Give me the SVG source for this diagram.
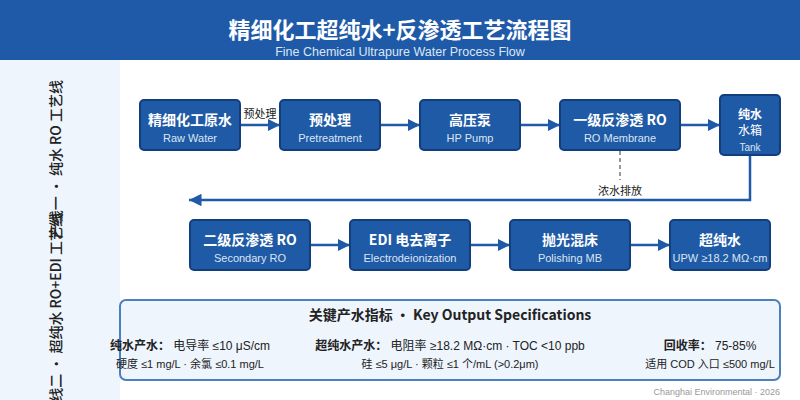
<svg xmlns="http://www.w3.org/2000/svg" width="800" height="400" viewBox="0 0 800 400">
<defs>
<style>
.node rect{fill:#1f5aa6;stroke:#123f7c;stroke-width:2}
.t{font-family:"Noto Sans CJK SC","Noto Sans",sans-serif;font-weight:700;fill:#fff;text-anchor:middle}
.s{font-family:"Liberation Sans","Noto Sans CJK SC",sans-serif;fill:#dbe6f5;text-anchor:middle}
.lbl{font-family:"Noto Sans CJK SC",sans-serif;font-size:11px;fill:#222}
.con{stroke:#1f5aa6;stroke-width:2.5;fill:none}
.sp{font-family:"Liberation Sans","Noto Sans CJK SC",sans-serif;fill:#222;text-anchor:middle}
.b{font-family:"Noto Sans CJK SC",sans-serif;font-weight:700}
</style>
<marker id="ah" viewBox="0 0 10 10" refX="10" refY="5" markerWidth="5" markerHeight="5" orient="auto" markerUnits="strokeWidth">
<path d="M0,0 L10,5 L0,10 z" fill="#1f5aa6"/>
</marker>
</defs>
<rect width="800" height="400" fill="#fff"/>
<rect width="800" height="60" fill="#1f5aa8"/>
<text x="400" y="38" text-anchor="middle" font-family="Noto Sans CJK SC, sans-serif" font-weight="700" font-size="22" fill="#fff">精细化工超纯水+反渗透工艺流程图</text>
<text x="400" y="56" text-anchor="middle" font-family="Liberation Sans, sans-serif" font-size="12.5" fill="#dbe6f5">Fine Chemical Ultrapure Water Process Flow</text>
<rect x="0" y="60" width="120" height="340" fill="#eef5fd"/>
<g font-family="Noto Sans CJK SC, sans-serif" font-size="14" font-weight="500" fill="#222" text-anchor="end">
<text transform="translate(61,80) rotate(-90)">产线一 · 纯水 RO 工艺线</text>
<text transform="translate(61,213) rotate(-90)">产线二 · 超纯水 RO+EDI 工艺线</text>
</g>
<g id="connectors">
<line class="con" x1="240" y1="125" x2="280" y2="125" marker-end="url(#ah)"/>
<text class="lbl" x="260" y="118" text-anchor="middle">预处理</text>
<line class="con" x1="380" y1="125" x2="420" y2="125" marker-end="url(#ah)"/>
<line class="con" x1="520" y1="125" x2="560" y2="125" marker-end="url(#ah)"/>
<line class="con" x1="680" y1="125" x2="720" y2="125" marker-end="url(#ah)"/>
<polyline class="con" points="750,155 750,200 189,200" marker-end="url(#ah)"/>
<line x1="620" y1="151" x2="620" y2="180" stroke="#999" stroke-width="2" stroke-dasharray="4,3"/>
<text class="lbl" x="620" y="195" text-anchor="middle">浓水排放</text>
<line class="con" x1="310" y1="245" x2="350" y2="245" marker-end="url(#ah)"/>
<line class="con" x1="470" y1="245" x2="510" y2="245" marker-end="url(#ah)"/>
<line class="con" x1="630" y1="245" x2="670" y2="245" marker-end="url(#ah)"/>
</g>
<g id="raw" class="node"><rect x="140" y="100" width="100" height="50" rx="4"/><text class="t" x="190" y="125" font-size="14">精细化工原水</text><text class="s" x="190" y="142" font-size="11">Raw Water</text></g>
<g id="pre" class="node"><rect x="280" y="100" width="100" height="50" rx="4"/><text class="t" x="330" y="125" font-size="14">预处理</text><text class="s" x="330" y="142" font-size="11">Pretreatment</text></g>
<g id="pump" class="node"><rect x="420" y="100" width="100" height="50" rx="4"/><text class="t" x="470" y="125" font-size="14">高压泵</text><text class="s" x="470" y="142" font-size="11">HP Pump</text></g>
<g id="ro1" class="node"><rect x="560" y="100" width="120" height="50" rx="4"/><text class="t" x="620" y="125" font-size="14">一级反渗透 RO</text><text class="s" x="620" y="142" font-size="11">RO Membrane</text></g>
<g id="tank" class="node"><rect x="720" y="95" width="60" height="60" rx="4"/><text class="t" x="750" y="119" font-size="12">纯水</text><text x="750" y="135" font-family="Noto Sans CJK SC, sans-serif" font-size="12" fill="#fff" text-anchor="middle">水箱</text><text class="s" x="750" y="151" font-size="10">Tank</text></g>
<g id="ro2" class="node"><rect x="190" y="220" width="120" height="50" rx="4"/><text class="t" x="250" y="245" font-size="14">二级反渗透 RO</text><text class="s" x="250" y="262" font-size="11">Secondary RO</text></g>
<g id="edi" class="node"><rect x="350" y="220" width="120" height="50" rx="4"/><text class="t" x="410" y="245" font-size="14">EDI 电去离子</text><text class="s" x="410" y="262" font-size="11">Electrodeionization</text></g>
<g id="mb" class="node"><rect x="510" y="220" width="120" height="50" rx="4"/><text class="t" x="570" y="245" font-size="14">抛光混床</text><text class="s" x="570" y="262" font-size="11">Polishing MB</text></g>
<g id="upw" class="node"><rect x="670" y="220" width="100" height="50" rx="4"/><text class="t" x="720" y="245" font-size="14">超纯水</text><text class="s" x="720" y="262" font-size="11">UPW ≥18.2 MΩ·cm</text></g>
<g id="specs">
<rect x="120" y="300" width="660" height="80" rx="6" fill="#eef5fd" stroke="#4a7fc0" stroke-width="2"/>
<text x="450" y="320" text-anchor="middle" font-family="Noto Sans CJK SC, sans-serif" font-weight="700" font-size="14" fill="#222">关键产水指标 · Key Output Specifications</text>
<text class="sp" x="190" y="350" font-size="12"><tspan class="b">纯水产水：</tspan> 电导率 ≤10 μS/cm</text>
<text class="sp" x="190" y="368" font-size="11">硬度 ≤1 mg/L · 余氯 ≤0.1 mg/L</text>
<text class="sp" x="450" y="350" font-size="12"><tspan class="b">超纯水产水：</tspan> 电阻率 ≥18.2 MΩ·cm · TOC &lt;10 ppb</text>
<text class="sp" x="450" y="368" font-size="11">硅 ≤5 μg/L · 颗粒 ≤1 个/mL (&gt;0.2μm)</text>
<text class="sp" x="710" y="350" font-size="12"><tspan class="b">回收率：</tspan> 75-85%</text>
<text class="sp" x="710" y="368" font-size="11">适用 COD 入口 ≤500 mg/L</text>
</g>
<text x="780" y="395" text-anchor="end" font-family="Liberation Sans, sans-serif" font-size="9" fill="#999">Changhai Environmental · 2026</text>
</svg>
